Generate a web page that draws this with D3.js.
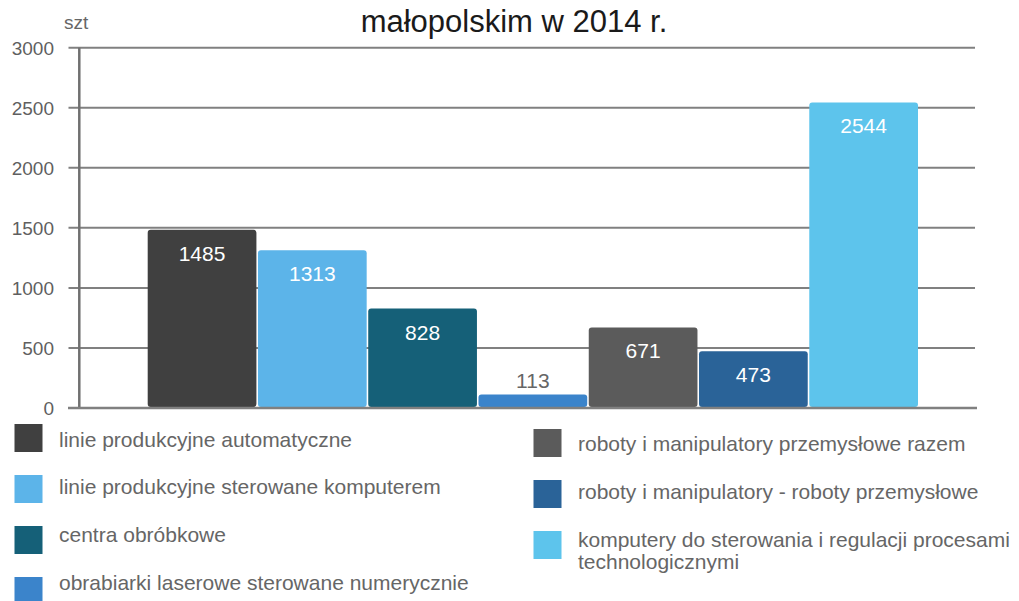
<!DOCTYPE html>
<html>
<head>
<meta charset="utf-8">
<script src="https://cdn.jsdelivr.net/npm/d3@7"></script>
<style>
  body { margin: 0; background: #fff; }
  text { font-family: "Liberation Sans", Arial, Helvetica, sans-serif; }
</style>
</head>
<body>
<svg id="chart" width="1019" height="601"></svg>
<script>
const width = 1019
const height = 601

// data
const categories = [
  "linie produkcyjne automatyczne",
  "linie produkcyjne sterowane komputerem",
  "centra obróbkowe",
  "obrabiarki laserowe sterowane numerycznie",
  "roboty i manipulatory przemysłowe razem",
  "roboty i manipulatory - roboty przemysłowe",
  "komputery do sterowania i regulacji procesami technologicznymi"
]
const values = [1485, 1313, 828, 113, 671, 473, 2544]
const colors = ["#404040", "#5cb4e9", "#156078", "#3b84cb", "#5b5b5b", "#2a6398", "#5dc4ec"]
const yTicks = [0, 500, 1000, 1500, 2000, 2500, 3000]

const svg = d3.select("#chart")

const x = d3.scaleBand()
  .domain(categories)
  .range([147.7, 918])
  .paddingInner(0.014)
  .paddingOuter(0)

const y = d3.scaleLinear()
  .domain([0, 3000])
  .range([408, 47.7])

// title (only the second line is visible)
svg.append("text")
  .attr("x", 514)
  .attr("y", 32)
  .attr("text-anchor", "middle")
  .attr("font-size", 31)
  .attr("fill", "#1a1a1a")
  .text("małopolskim w 2014 r.")

svg.append("text")
  .attr("x", 64)
  .attr("y", 29)
  .attr("font-size", 19)
  .attr("fill", "#666")
  .text("szt")

// gridlines + tick labels
const grid = svg.append("g")
grid.selectAll("line")
  .data(yTicks.filter(d => d > 0))
  .join("line")
  .attr("x1", 68.5)
  .attr("x2", 975)
  .attr("y1", d => y(d))
  .attr("y2", d => y(d))
  .attr("stroke", "#808080")
  .attr("stroke-width", 2)

grid.selectAll("text")
  .data(yTicks)
  .join("text")
  .attr("x", 54)
  .attr("y", d => y(d))
  .attr("dy", "0.36em")
  .attr("text-anchor", "end")
  .attr("font-size", 19)
  .attr("fill", "#5f5f5f")
  .text(d => d)

// bars
svg.append("g")
  .selectAll("rect")
  .data(values)
  .join("rect")
  .attr("x", (d, i) => x(categories[i]))
  .attr("y", d => y(d))
  .attr("width", x.bandwidth())
  .attr("height", d => y(0) - y(d) - 1)
  .attr("rx", 3)
  .attr("fill", (d, i) => colors[i])

// value labels
svg.append("g")
  .selectAll("text")
  .data(values)
  .join("text")
  .attr("x", (d, i) => x(categories[i]) + x.bandwidth() / 2)
  .attr("y", d => (y(0) - y(d) < 40) ? y(d) - 6 : y(d) + 31)
  .attr("text-anchor", "middle")
  .attr("font-size", 21)
  .attr("fill", d => (y(0) - y(d) < 40) ? "#666" : "#fff")
  .text(d => d)

// axis lines
svg.append("line")
  .attr("x1", 79.3).attr("x2", 79.3)
  .attr("y1", y(3000)).attr("y2", y(0))
  .attr("stroke", "#707070")
  .attr("stroke-width", 2.5)

svg.append("line")
  .attr("x1", 68).attr("x2", 977)
  .attr("y1", y(0)).attr("y2", y(0))
  .attr("stroke", "#808080")
  .attr("stroke-width", 2.5)

// legend: two columns, squares and texts on slightly different row steps
const legend = svg.append("g")
  .selectAll("g")
  .data(categories)
  .join("g")
  .attr("transform", (d, i) => i < 4 ? "translate(14.5, 0)" : "translate(533.5, 0)")

legend.append("rect")
  .attr("y", (d, i) => i < 4 ? 424 + i * 51 : 429 + (i - 4) * 51)
  .attr("width", 28)
  .attr("height", 28)
  .attr("fill", (d, i) => colors[i])

legend.append("text")
  .attr("x", 44.5)
  .attr("y", (d, i) => i < 4 ? 446.5 + i * 47.8 : 450.7 + (i - 4) * 48)
  .attr("font-size", 21)
  .attr("fill", "#666")
  .text(d => d)
  .each(function() { wrap(d3.select(this), 460) })

function wrap(text, maxWidth) {
  const words = text.text().split(" ")
  const x0 = text.attr("x")
  text.text(null)
  let line = []
  let tspan = text.append("tspan").attr("x", x0)
  words.forEach(w => {
    line.push(w)
    tspan.text(line.join(" "))
    if (tspan.node().getComputedTextLength() > maxWidth && line.length > 1) {
      line.pop()
      tspan.text(line.join(" "))
      line = [w]
      tspan = text.append("tspan").attr("x", x0).attr("dy", "1.08em").text(w)
    }
  })
}
</script>
</body>
</html>
